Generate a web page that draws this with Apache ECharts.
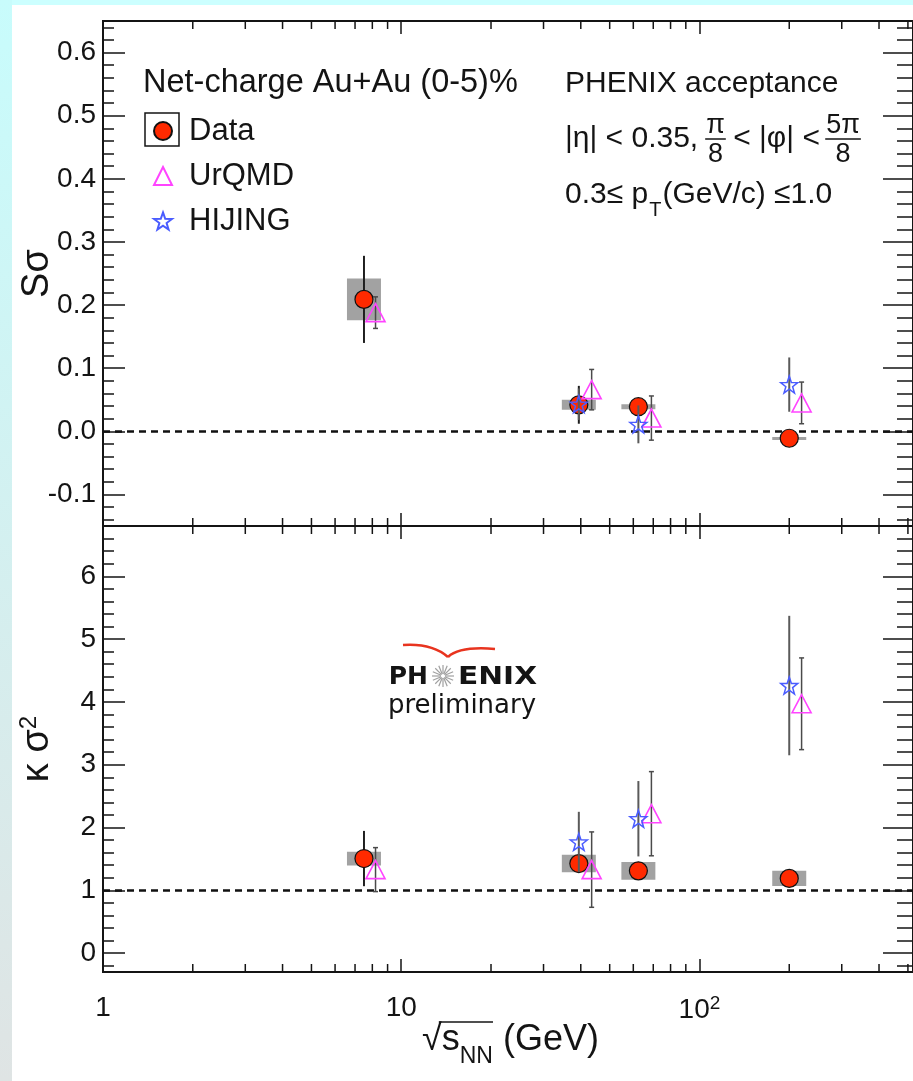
<!DOCTYPE html>
<html><head><meta charset="utf-8">
<script src="https://cdn.jsdelivr.net/npm/echarts@6/dist/echarts.min.js"></script>
<style>html,body{margin:0;padding:0;background:#fff;}#c{width:913px;height:1081px;}</style>
</head><body><div id="c"></div>
<script>
// ---------------- data ----------------
const dataX   = [7.5, 39.4, 62.4, 200];
const urqmdX  = [8.2, 43.5, 69, 220];
const hijingX = [39.4, 62.4, 200];

// S sigma (top panel)
const dataS      = [0.209, 0.042, 0.039, -0.011];
const dataSStat  = [0.069, 0.030, 0.010, 0.006];
const dataSSys   = [0.033, 0.008, 0.004, 0.002];
const urqmdS     = [0.188, 0.066, 0.021, 0.045];
const urqmdSErr  = [0.025, 0.032, 0.035, 0.033];
const hijingS    = [0.043, 0.011, 0.074];
const hijingSErr = [0.025, 0.030, 0.043];

// kappa sigma^2 (bottom panel)
const dataK      = [1.506, 1.426, 1.31, 1.19];
const dataKStat  = [0.44, 0.10, 0.06, 0.05];
const dataKSys   = [0.11, 0.14, 0.14, 0.12];
const urqmdK     = [1.33, 1.33, 2.22, 3.97];
const urqmdKErr  = [0.35, 0.60, 0.67, 0.73];
const hijingK    = [1.77, 2.14, 4.26];
const hijingKErr = [0.48, 0.60, 1.11];

// ticks
const xMinorTicks = [2,3,4,5,6,7,8,9,20,30,40,50,60,70,80,90,200,300,400,500];
const sTicks = [-0.1,0,0.1,0.2,0.3,0.4,0.5,0.6];
const sMinorTicks = [-0.14,-0.12,-0.08,-0.06,-0.04,-0.02,0.02,0.04,0.06,0.08,0.12,0.14,0.16,0.18,0.22,0.24,0.26,0.28,0.32,0.34,0.36,0.38,0.42,0.44,0.46,0.48,0.52,0.54,0.56,0.58,0.62,0.64];
const kTicks = [0,1,2,3,4,5,6];
const kMinorTicks = [-0.2,0.2,0.4,0.6,0.8,1.2,1.4,1.6,1.8,2.2,2.4,2.6,2.8,3.2,3.4,3.6,3.8,4.2,4.4,4.6,4.8,5.2,5.4,5.6,5.8,6.2,6.4,6.6];
const refLines = [0, 1];
const panelRange = [[-0.15, 0.65], [-0.3, 6.8]];
const xRange = [1, 520];

// ---------------- helpers ----------------
const FONT = 'Liberation Sans';
const INK = '#141414';
const ctx = document.createElement('canvas').getContext('2d');
function tw(t, size, weight, fam) {
  ctx.font = (weight || 'normal') + ' ' + size + 'px "' + (fam || FONT) + '"';
  return ctx.measureText(t).width;
}
function txt(t, x, y, size, o) {
  o = o || {};
  const el = {type: 'text', x: x, y: y, silent: true, style: {
    text: t, fontSize: size, fontFamily: o.fam || FONT, fontWeight: o.weight || 'normal',
    fill: o.fill || INK, align: o.align || 'left', verticalAlign: 'middle'}};
  if (o.scaleX) el.scaleX = o.scaleX;
  return el;
}
function seg(x1, y1, x2, y2, color, w) {
  return {type: 'line', silent: true, shape: {x1, y1, x2, y2}, style: {stroke: color || INK, lineWidth: w || 1.5}};
}

const STAR = 'path://M50,0L61.76,33.82L97.55,34.55L69.02,56.18L79.39,90.45L50,70L20.61,90.45L30.98,56.18L2.45,34.55L38.24,33.82Z';

function xAx(grid, pos, labels) {
  return {
    type: 'log', logBase: 10, gridIndex: grid, position: pos, min: xRange[0], max: xRange[1],
    axisLine: {show: false, onZero: false},
    axisTick: {show: true, inside: true, length: 13, lineStyle: {color: INK, width: 1.5}},
    axisLabel: {show: labels, showMaxLabel: false, margin: 22, fontSize: 28, color: INK, fontFamily: FONT,
      formatter: function (v) {
        const e = Math.round(Math.log10(v));
        if (e <= 0) return '1';
        if (e === 1) return '10';
        return '{b|10}{s|' + e + '}';
      },
      rich: {b: {fontSize: 28, lineHeight: 30, verticalAlign: 'bottom', fontFamily: FONT, color: INK},
             s: {fontSize: 19, lineHeight: 16, verticalAlign: 'top', fontFamily: FONT, color: INK}}},
    splitLine: {show: false}, minorTick: {show: false}, minorSplitLine: {show: false}
  };
}
function yAx(grid, pos, ticks, len, labels, range, fmt, name, rich) {
  const a = {
    type: 'value', gridIndex: grid, position: pos, min: range[0], max: range[1],
    axisLine: {show: false, onZero: false},
    axisTick: {show: true, inside: true, length: len, customValues: ticks, lineStyle: {color: INK, width: 1.5}},
    axisLabel: labels ? {show: true, customValues: ticks, formatter: fmt, fontSize: 28, color: INK, margin: 7, fontFamily: FONT}
                      : {show: false},
    splitLine: {show: false}, minorTick: {show: false}
  };
  if (name) {
    a.name = name; a.nameLocation = 'middle'; a.nameGap = 46; a.nameRotate = 90; a.nameMoveOverlap = false;
    a.nameTextStyle = {fontSize: 38, color: INK, fontFamily: FONT};
    if (rich) a.nameTextStyle.rich = rich;
  }
  return a;
}

function boxSeries(p, xs, ys, es) {
  return {type: 'custom', name: 'sys' + p, xAxisIndex: p * 2, yAxisIndex: p * 4, z: 1, silent: true,
    data: xs.map((x, i) => [x, ys[i], es[i]]), encode: {x: 0, y: 1},
    renderItem: function (params, api) {
      const x = api.value(0), y = api.value(1), e = api.value(2);
      const c = api.coord([x, y]), t = api.coord([x, y + e]), b = api.coord([x, y - e]);
      return {type: 'rect', shape: {x: c[0] - 17, y: t[1], width: 34, height: Math.max(3, b[1] - t[1])},
              style: {fill: '#a2a2a2'}};
    }};
}
function errSeries(p, nm, xs, ys, es, color, w, cap, z) {
  return {type: 'custom', name: nm + 'err' + p, xAxisIndex: p * 2, yAxisIndex: p * 4, z: z, silent: true,
    data: xs.map((x, i) => [x, ys[i], es[i]]), encode: {x: 0, y: 1},
    renderItem: function (params, api) {
      const x = api.value(0), y = api.value(1), e = api.value(2);
      const t = api.coord([x, y + e]), b = api.coord([x, y - e]);
      const ch = [{type: 'line', shape: {x1: t[0], y1: t[1], x2: b[0], y2: b[1]}, style: {stroke: color, lineWidth: w}}];
      if (cap) {
        ch.push({type: 'line', shape: {x1: t[0] - cap, y1: t[1], x2: t[0] + cap, y2: t[1]}, style: {stroke: color, lineWidth: w}});
        ch.push({type: 'line', shape: {x1: b[0] - cap, y1: b[1], x2: b[0] + cap, y2: b[1]}, style: {stroke: color, lineWidth: w}});
      }
      return {type: 'group', children: ch};
    }};
}
function xMinorSeries(p) {
  return {type: 'custom', name: 'xminor' + p, xAxisIndex: p * 2, yAxisIndex: p * 4, z: 1, silent: true,
    data: xMinorTicks.map(v => [v, refLines[p]]), encode: {x: 0, y: 1},
    renderItem: function (params, api) {
      const cs = params.coordSys;
      const x = api.coord([api.value(0), api.value(1)])[0];
      const top = cs.y, bot = cs.y + cs.height;
      return {type: 'group', children: [
        {type: 'line', shape: {x1: x, y1: bot, x2: x, y2: bot - 8}, style: {stroke: INK, lineWidth: 1.5}},
        {type: 'line', shape: {x1: x, y1: top, x2: x, y2: top + 8}, style: {stroke: INK, lineWidth: 1.5}}]};
    }};
}
function panelSeries(p, dv, dst, dsy, uv, ue, hv, he) {
  return [
    xMinorSeries(p),
    boxSeries(p, dataX, dv, dsy),
    errSeries(p, 'Data', dataX, dv, dst, '#1e1e1e', 2, 0, 2),
    {type: 'scatter', name: 'Data', xAxisIndex: p * 2, yAxisIndex: p * 4, z: 3, silent: true,
     symbol: 'circle', symbolSize: 18,
     itemStyle: {color: '#ff2a00', borderColor: '#111', borderWidth: 1.2, opacity: 1},
     data: dataX.map((x, i) => [x, dv[i]]),
     markLine: {silent: true, symbol: 'none', z: 1, label: {show: false},
       lineStyle: {color: '#111', type: [7, 5], width: 2.5},
       data: [{yAxis: refLines[p]}]}},
    errSeries(p, 'UrQMD', urqmdX, uv, ue, '#4a4a4a', 1.5, 2.5, 4),
    {type: 'scatter', name: 'UrQMD', xAxisIndex: p * 2, yAxisIndex: p * 4, z: 5, silent: true,
     symbol: 'triangle', symbolSize: [19, 18],
     itemStyle: {color: 'rgba(255,255,255,0)', borderColor: '#ff44ff', borderWidth: 1.6, opacity: 1},
     data: urqmdX.map((x, i) => [x, uv[i]])},
    errSeries(p, 'HIJING', hijingX, hv, he, '#5a5a5a', 2, 0, 6),
    {type: 'scatter', name: 'HIJING', xAxisIndex: p * 2, yAxisIndex: p * 4, z: 7, silent: true,
     symbol: STAR, symbolSize: 17,
     itemStyle: {color: 'rgba(255,255,255,0)', borderColor: '#4a5cff', borderWidth: 1.5, opacity: 1},
     data: hijingX.map((x, i) => [x, hv[i]])}
  ];
}

// ---------------- annotations ----------------
const g = [];
g.push({type: 'rect', silent: true, shape: {x: 0, y: 0, width: 913, height: 5}, style: {fill: '#ccffff'}});
g.push({type: 'rect', silent: true, shape: {x: 0, y: 0, width: 12, height: 1081},
  style: {fill: new echarts.graphic.LinearGradient(0, 0, 0, 1, [{offset: 0, color: '#c8fcfc'}, {offset: 1, color: '#dfe4e4'}])}});
// legend frame around Data marker
g.push({type: 'rect', silent: true, shape: {x: 145, y: 113, width: 34, height: 33}, style: {fill: 'none', stroke: INK, lineWidth: 1.5}});
g.push(txt('Net-charge Au+Au (0-5)%', 143, 83, 32.5));
g.push(txt('PHENIX acceptance', 565, 84, 30));
// |eta| line with fractions
(function () {
  let cx = 565; const y = 139, fs = 30, ff = 27;
  g.push(txt('|η| < 0.35,', cx, y, fs));
  cx += tw('|η| < 0.35,', fs) + 8;
  let fw = Math.max(tw('π', ff), tw('8', ff));
  let fc = cx + fw / 2;
  g.push(txt('π', fc, 126, ff, {align: 'center'}));
  g.push(seg(fc - fw / 2 - 1, 139, fc + fw / 2 + 1, 139, INK, 1.5));
  g.push(txt('8', fc, 155, ff, {align: 'center'}));
  cx = fc + fw / 2;
  g.push(txt(' < |φ| < ', cx, y, fs));
  cx += tw(' < |φ| < ', fs) - 2;
  fw = tw('5π', ff);
  fc = cx + fw / 2;
  g.push(txt('5π', fc, 126, ff, {align: 'center'}));
  g.push(seg(fc - fw / 2 - 1, 139, fc + fw / 2 + 1, 139, INK, 1.5));
  g.push(txt('8', fc, 155, ff, {align: 'center'}));
})();
// pT line
(function () {
  let cx = 565; const y = 195, fs = 30;
  g.push(txt('0.3≤ p', cx, y, fs));
  cx += tw('0.3≤ p', fs) + 1;
  g.push(txt('T', cx, y + 15, 20));
  cx += tw('T', 20) + 1;
  g.push(txt('(GeV/c) ≤1.0', cx, y, fs));
})();
// PHENIX preliminary logo
(function () {
  g.push({type: 'bezierCurve', silent: true, shape: {x1: 403, y1: 645, x2: 448, y2: 657, cpx1: 432, cpy1: 643}, style: {stroke: '#e8341f', lineWidth: 2.5, fill: 'none'}});
  g.push({type: 'bezierCurve', silent: true, shape: {x1: 448, y1: 657, x2: 495, y2: 649, cpx1: 460, cpy1: 646}, style: {stroke: '#e8341f', lineWidth: 2.5, fill: 'none'}});
  g.push(txt('PH', 428, 677, 25, {weight: 'bold', fam: 'DejaVu Sans', align: 'right'}));
  const enixW = tw('ENIX', 25, 'bold', 'DejaVu Sans');
  g.push(txt('ENIX', 458, 677, 25, {weight: 'bold', fam: 'DejaVu Sans', scaleX: 79 / enixW}));
  const cx = 443, cy = 676;
  for (let i = 0; i < 16; i++) {
    const a = i * Math.PI / 8;
    g.push(seg(cx + 2 * Math.cos(a), cy + 2 * Math.sin(a), cx + 11 * Math.cos(a), cy + 11 * Math.sin(a), '#a0a0a0', 1.2));
  }
  g.push(txt('preliminary', 388, 706, 26, {fam: 'DejaVu Sans'}));
})();
// x axis title: sqrt(s_NN) (GeV)
(function () {
  const fs = 36, fsub = 23, y = 1040;
  const wR = tw('√', fs), wS = tw('s', fs), wN = tw('NN', fsub), wG = tw(' (GeV)', fs);
  const left = 103 + 815 / 2 - (wR + wS + wN + wG) / 2;
  let cx = left;
  g.push(txt('√', cx, y, fs)); cx += wR;
  g.push(txt('s', cx, y, fs)); cx += wS;
  g.push(txt('NN', cx, y + 17, fsub)); cx += wN;
  g.push(txt(' (GeV)', cx, y, fs));
  g.push(seg(left + wR * 0.85, 1022, left + wR + wS + wN, 1022, INK, 1.5));
})();

const sFmt = v => (Math.abs(v) < 1e-9 ? 0 : v).toFixed(1);
const kFmt = v => String(Math.round(v));

const option = {
  animation: false,
  textStyle: {fontFamily: FONT},
  grid: [
    {left: 103, top: 21, width: 815, height: 505, show: true, borderColor: INK, borderWidth: 2, backgroundColor: 'rgba(0,0,0,0)'},
    {left: 103, top: 526, width: 815, height: 446, show: true, borderColor: INK, borderWidth: 2, backgroundColor: 'rgba(0,0,0,0)'}
  ],
  xAxis: [xAx(0, 'bottom', false), xAx(0, 'top', false), xAx(1, 'bottom', true), xAx(1, 'top', false)],
  yAxis: [
    yAx(0, 'left', sTicks, 22, true, panelRange[0], sFmt, 'Sσ'),
    yAx(0, 'left', sMinorTicks, 11, false, panelRange[0]),
    yAx(0, 'right', sTicks, 30, false, panelRange[0]),
    yAx(0, 'right', sMinorTicks, 16, false, panelRange[0]),
    yAx(1, 'left', kTicks, 22, true, panelRange[1], kFmt, '{a|κ σ}{s|2}',
        {a: {fontSize: 38, lineHeight: 40, verticalAlign: 'bottom', fontFamily: FONT, color: INK},
         s: {fontSize: 24, lineHeight: 14, verticalAlign: 'top', fontFamily: FONT, color: INK}}),
    yAx(1, 'left', kMinorTicks, 11, false, panelRange[1]),
    yAx(1, 'right', kTicks, 30, false, panelRange[1]),
    yAx(1, 'right', kMinorTicks, 16, false, panelRange[1])
  ],
  legend: {
    orient: 'vertical', left: 153, top: 113, padding: 0, itemGap: 9, itemWidth: 18, itemHeight: 18,
    selectedMode: false, data: ['Data', 'UrQMD', 'HIJING'],
    textStyle: {fontSize: 31, lineHeight: 36, color: INK, fontFamily: FONT, padding: [0, 0, 0, 12]}
  },
  graphic: g,
  series: [].concat(
    panelSeries(0, dataS, dataSStat, dataSSys, urqmdS, urqmdSErr, hijingS, hijingSErr),
    panelSeries(1, dataK, dataKStat, dataKSys, urqmdK, urqmdKErr, hijingK, hijingKErr)
  )
};
const chart = echarts.init(document.getElementById('c'), null, {renderer: 'canvas'});
chart.setOption(option);
</script></body></html>
